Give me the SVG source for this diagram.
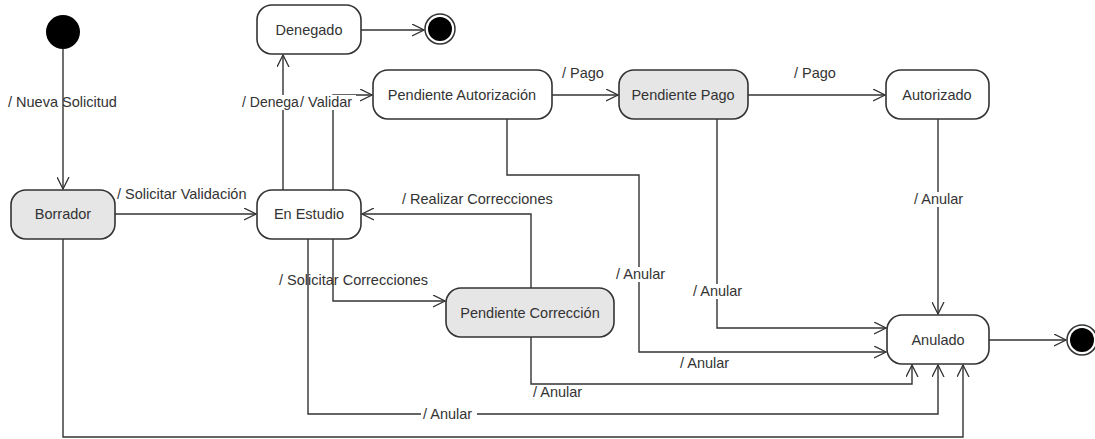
<svg xmlns="http://www.w3.org/2000/svg" width="1095" height="439" viewBox="0 0 1095 439">
<defs>
<marker id="arr" viewBox="0 0 13 13" refX="12" refY="6.5" markerWidth="13" markerHeight="13" markerUnits="userSpaceOnUse" orient="auto">
<path d="M0,0.5 L12,6.5 L0,12.5" fill="none" stroke="#333" stroke-width="1.3"/>
</marker>
<style>
.st{fill:#fff;stroke:#333;stroke-width:1.6}
.g{fill:#e6e6e6}
.t{font-family:"Liberation Sans",Arial,sans-serif;font-size:14.5px;fill:#333}
.c{text-anchor:middle}
.ln{fill:none;stroke:#333;stroke-width:1.4;marker-end:url(#arr)}
.bg{fill:#fff}
</style>
</defs>
<rect width="1095" height="439" fill="#fff"/>
<g id="connectors">
<path class="ln" d="M63,49 V189"/>
<path class="ln" d="M115,214 H256"/>
<path class="ln" d="M283,190 V55"/>
<path class="ln" d="M333,190 V95 H372"/>
<path class="ln" d="M361,30 H424"/>
<path class="ln" d="M552,95 H618"/>
<path class="ln" d="M748,95 H885"/>
<path class="ln" d="M938,119 V314"/>
<path class="ln" d="M531,288 V214 H362"/>
<path class="ln" d="M333,239 V301 H445"/>
<path class="ln" d="M507,119 V175 H639 V352 H886"/>
<path class="ln" d="M717,119 V328 H886"/>
<path class="ln" d="M531,337 V384 H912 V365"/>
<path class="ln" d="M308,239 V414 H938 V365"/>
<path class="ln" d="M63,239 V437 H963 V365"/>
<path class="ln" d="M989,340 H1066"/>
</g>
<g id="labels">
<text class="t" x="8" y="107">/ Nueva Solicitud</text>
<text class="t" x="117" y="199">/ Solicitar Validación</text>
<rect class="bg" x="241" y="95" width="115" height="15"/>
<text class="t" x="242" y="107" style="font-size:14px">/ Denega</text>
<text class="t" x="300" y="107">/ Validar</text>
<text class="t" x="562" y="78">/ Pago</text>
<text class="t" x="794" y="78">/ Pago</text>
<rect class="bg" x="912" y="192" width="58" height="15"/>
<text class="t" x="914" y="204">/ Anular</text>
<text class="t" x="402" y="204">/ Realizar Correcciones</text>
<text class="t" x="279" y="285">/ Solicitar Correcciones</text>
<rect class="bg" x="614" y="267" width="56" height="15"/>
<text class="t" x="616" y="279">/ Anular</text>
<rect class="bg" x="691" y="284" width="56" height="15"/>
<text class="t" x="693" y="296">/ Anular</text>
<text class="t" x="680" y="368">/ Anular</text>
<text class="t" x="533" y="397">/ Anular</text>
<rect class="bg" x="421" y="407" width="56" height="15"/>
<text class="t" x="423" y="419">/ Anular</text>
</g>
<g id="inicio"><circle cx="63" cy="32" r="17" fill="#000"/></g>
<g id="borrador"><rect class="st g" x="11" y="190" width="104" height="49" rx="15"/><text class="t c" x="63" y="219">Borrador</text></g>
<g id="en-estudio"><rect class="st" x="257" y="190" width="104" height="49" rx="15"/><text class="t c" x="309" y="219">En Estudio</text></g>
<g id="denegado"><rect class="st" x="257" y="5" width="104" height="49" rx="15"/><text class="t c" x="309" y="35">Denegado</text></g>
<g id="fin-denegado"><circle cx="440" cy="29" r="15" fill="#fff" stroke="#333" stroke-width="1.5"/><circle cx="440" cy="29" r="12" fill="#000"/></g>
<g id="pendiente-autorizacion"><rect class="st" x="373" y="70" width="179" height="49" rx="15"/><text class="t c" x="462" y="100">Pendiente Autorización</text></g>
<g id="pendiente-pago"><rect class="st g" x="619" y="70" width="129" height="49" rx="15"/><text class="t c" x="683" y="100">Pendiente Pago</text></g>
<g id="autorizado"><rect class="st" x="886" y="70" width="103" height="49" rx="15"/><text class="t c" x="937" y="100">Autorizado</text></g>
<g id="pendiente-correccion"><rect class="st g" x="446" y="288" width="168" height="49" rx="15"/><text class="t c" x="530" y="318">Pendiente Corrección</text></g>
<g id="anulado"><rect class="st" x="887" y="315" width="102" height="49" rx="15"/><text class="t c" x="938" y="345">Anulado</text></g>
<g id="fin-anulado"><circle cx="1082" cy="340" r="15" fill="#fff" stroke="#333" stroke-width="1.5"/><circle cx="1082" cy="340" r="12" fill="#000"/></g>
</svg>
